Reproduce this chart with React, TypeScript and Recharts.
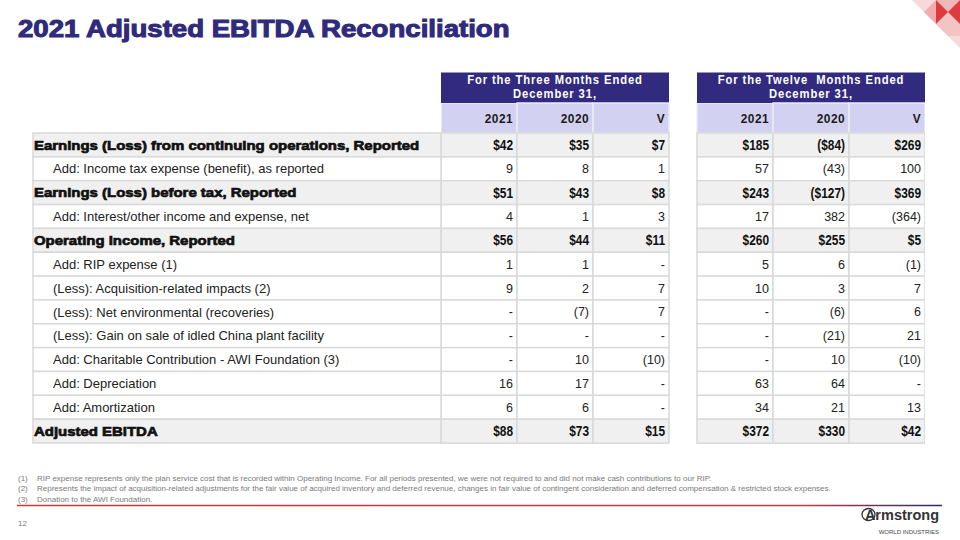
import { Bar, BarChart, XAxis, YAxis } from 'recharts'

const rowLabels = [
  'Earnings (Loss) from continuing operations, Reported',
  'Add: Income tax expense (benefit), as reported',
  'Earnings (Loss) before tax, Reported',
  'Add: Interest/other income and expense, net',
  'Operating Income, Reported',
  'Add: RIP expense (1)',
  '(Less): Acquisition-related impacts (2)',
  '(Less): Net environmental (recoveries)',
  '(Less): Gain on sale of idled China plant facility',
  'Add: Charitable Contribution - AWI Foundation (3)',
  'Add: Depreciation',
  'Add: Amortization',
  'Adjusted EBITDA',
]

const subtotalRows = [
  'Earnings (Loss) from continuing operations, Reported',
  'Earnings (Loss) before tax, Reported',
  'Operating Income, Reported',
  'Adjusted EBITDA',
]

const periodHeaders = ['For the Three Months Ended', 'For the Twelve  Months Ended']
const periodEnd = 'December 31,'
const columnLabels = ['2021', '2020', 'V']

// 0 is shown as "-"
const q4_2021 = [42, 9, 51, 4, 56, 1, 9, 0, 0, 0, 16, 6, 88]
const q4_2020 = [35, 8, 43, 1, 44, 1, 2, -7, 0, 10, 17, 6, 73]
const q4_var = [7, 1, 8, 3, 11, 0, 7, 7, 0, -10, 0, 0, 15]
const fy_2021 = [185, 57, 243, 17, 260, 5, 10, 0, 0, 0, 63, 34, 372]
const fy_2020 = [-84, -43, -127, 382, 255, 6, 3, -6, -21, 10, 64, 21, 330]
const fy_var = [269, 100, 369, -364, 5, -1, 7, 6, 21, -10, 0, 13, 42]

const footnotes = [
  'RIP expense represents only the plan service cost that is recorded within Operating Income. For all periods presented, we were not required to and did not make cash contributions to our RIP.',
  'Represents the impact of acquisition-related adjustments for the fair value of acquired inventory and deferred revenue, changes in fair value of contingent consideration and deferred compensation & restricted stock expenses.',
  'Donation to the AWI Foundation.',
]

const NAVY = '#312a7e'
const LAVENDER = '#d3d1f1'
const GRID = '#d9d9d9'
const SUB_FILL = '#f0f0f0'
const CELL_W = 76
const GAP = 28 / CELL_W
const FONT = "'Liberation Sans', Arial, sans-serif"

type Slot = { key: string; values?: number[]; group: number; col: number }

const slots: Slot[] = [
  { key: 'q21', values: q4_2021, group: 0, col: 0 },
  { key: 'q20', values: q4_2020, group: 0, col: 1 },
  { key: 'qv', values: q4_var, group: 0, col: 2 },
  { key: 'gap', group: -1, col: -1 },
  { key: 'f21', values: fy_2021, group: 1, col: 0 },
  { key: 'f20', values: fy_2020, group: 1, col: 1 },
  { key: 'fv', values: fy_var, group: 1, col: 2 },
]

function fmt(v: number, dollars: boolean) {
  if (v === 0) return '-'
  const s = (dollars ? '$' : '') + Math.abs(v)
  return v < 0 ? `(${s})` : s
}

const table = rowLabels.map((label, i) => {
  const sub = subtotalRows.includes(label)
  const row: Record<string, any> = { label, sub }
  slots.forEach((s) => {
    row[s.key + 'W'] = s.values ? 1 : GAP
    if (s.values) row[s.key] = fmt(s.values[i], sub)
  })
  return row
})

const total = 6 + GAP

// horizontally scaled text: narrow (sx < 1) or extra-wide/heavy (sx > 1)
function ScaledText(props: any) {
  const { x, y, sx = 1, anchor = 'start', size, weight = 400, fill, stroke, strokeWidth = 0, spacing, children, middle } = props
  return (
    <text
      transform={`translate(${x} ${y}) scale(${sx} 1)`}
      textAnchor={anchor}
      dy={middle ? '0.36em' : undefined}
      fontFamily={FONT}
      fontSize={size}
      fontWeight={weight}
      fill={fill}
      stroke={stroke ?? 'none'}
      strokeWidth={strokeWidth}
      letterSpacing={spacing}
      style={{ whiteSpace: 'pre' }}
    >
      {children}
    </text>
  )
}

function RowLabel(props: any) {
  const { y, payload } = props
  const label = payload.value as string
  const sub = subtotalRows.includes(label)
  const h = 310 / rowLabels.length
  return (
    <g>
      <rect x={33} y={y - h / 2} width={408} height={h} fill={sub ? SUB_FILL : '#fff'} stroke={GRID} strokeWidth={1.5} />
      {sub ? (
        <ScaledText x={34} y={y} middle sx={1.15} size={13} weight={700} fill="#111" stroke="#111" strokeWidth={0.7}>
          {label}
        </ScaledText>
      ) : (
        <ScaledText x={53} y={y} middle size={13} fill="#222">
          {label}
        </ScaledText>
      )}
    </g>
  )
}

function makeCell(slot: Slot) {
  return (props: any) => {
    const { x, y, width, height } = props
    const row = props.payload ?? props
    if (!slot.values) return <g />
    const sub = row.sub
    const isFirst = row.label === rowLabels[0]
    return (
      <g>
        {isFirst && (
          <g>
            <rect x={x} y={y - 30} width={width} height={30} fill={LAVENDER} stroke="#ececf7" strokeWidth={1.5} />
            <ScaledText x={x + width - 4} y={y - 15} middle anchor="end" sx={0.88} size={13.5} spacing={0.5} weight={700} fill="#1a1a1a">
              {columnLabels[slot.col]}
            </ScaledText>
            {slot.col === 0 && (
              <g>
                <rect x={x} y={y - 60.5} width={width * 3} height={30.5} fill={NAVY} />
                <ScaledText x={x + (width * 3) / 2} y={y - 49} anchor="middle" sx={0.9} size={12.5} spacing={1} weight={700} fill="#fff">
                  {periodHeaders[slot.group]}
                </ScaledText>
                <ScaledText x={x + (width * 3) / 2} y={y - 35} anchor="middle" sx={0.9} size={12.5} spacing={1} weight={700} fill="#fff">
                  {periodEnd}
                </ScaledText>
              </g>
            )}
          </g>
        )}
        <rect x={x} y={y} width={width} height={height} fill={sub ? SUB_FILL : '#fff'} stroke={GRID} strokeWidth={1.5} />
        {sub ? (
          <ScaledText x={x + width - 4} y={y + height / 2} middle anchor="end" sx={0.85} size={14} weight={700} fill="#111">
            {row[slot.key]}
          </ScaledText>
        ) : (
          <ScaledText x={x + width - 4} y={y + height / 2} middle anchor="end" size={12.5} fill="#222">
            {row[slot.key]}
          </ScaledText>
        )}
      </g>
    )
  }
}

function Decorations() {
  return (
    <svg
      width={960}
      height={540}
      style={{ position: 'absolute', left: 0, top: 0, pointerEvents: 'none' }}
    >
      <defs>
        <linearGradient id="rule" gradientUnits="userSpaceOnUse" x1={17} x2={942} y1={0} y2={0}>
          <stop offset="0%" stopColor="#c8383c" />
          <stop offset="85%" stopColor="#c03a42" />
          <stop offset="100%" stopColor="#2a2a72" />
        </linearGradient>
      </defs>
      <ScaledText x={18} y={37} sx={1.2} size={23} weight={700} fill="#2f2a7c" stroke="#2f2a7c" strokeWidth={1}>
        2021 Adjusted EBITDA Reconciliation
      </ScaledText>

      {/* top-right ornament */}
      <polygon points="912,0 960,0 960,48" fill="#f7d9d9" />
      <polygon points="924,12 936,0 936,24" fill="#eeaeb0" />
      <polygon points="936,24 948,12 960,24 960,36 948,36" fill="#f3c4c5" />
      <polygon points="936,0 960,0 948,12" fill="#f0b8ba" />
      <polygon points="936,0 948,12 936,24" fill="#de3b3f" />
      <polygon points="960,0 948,12 960,24" fill="#de3b3f" />

      {footnotes.map((t, i) => (
        <g key={i} fontFamily={FONT} fontSize={8} fill="#7a7a7a">
          <text x={18} y={480.5 + i * 10.5}>{`(${i + 1})`}</text>
          <text x={37} y={480.5 + i * 10.5}>{t}</text>
        </g>
      ))}
      <line x1={17} x2={942} y1={505.5} y2={505.5} stroke="url(#rule)" strokeWidth={1.5} />
      <text x={18} y={526} fontFamily={FONT} fontSize={8} fill="#7a7a7a">
        12
      </text>

      <ellipse cx={868.5} cy={514.5} rx={6.5} ry={6} fill="none" stroke="#333" strokeWidth={1.3} />
      <text x={939} y={520} textAnchor="end" fontFamily={FONT} fontWeight={700} fontSize={14.5} fill="#333">
        Armstrong
      </text>
      <text x={939} y={534} textAnchor="end" fontFamily={FONT} fontSize={6} fill="#444">
        WORLD INDUSTRIES
      </text>
    </svg>
  )
}

export default function App() {
  return (
    <div style={{ position: 'absolute', left: 0, top: 0, width: 960, height: 540, background: '#fff' }}>
      <BarChart
        width={960}
        height={540}
        data={table}
        layout="vertical"
        margin={{ top: 133, right: 35, bottom: 97, left: 33 }}
        barCategoryGap={0}
        barGap={0}
      >
        <XAxis type="number" hide domain={[0, total]} allowDataOverflow />
        <YAxis
          type="category"
          dataKey="label"
          width={408}
          interval={0}
          tick={<RowLabel />}
          tickLine={false}
          axisLine={false}
        />
        {slots.map((s) => (
          <Bar
            key={s.key}
            dataKey={s.key + 'W'}
            stackId="cells"
            isAnimationActive={false}
            shape={makeCell(s)}
          />
        ))}
      </BarChart>
      <Decorations />
    </div>
  )
}
